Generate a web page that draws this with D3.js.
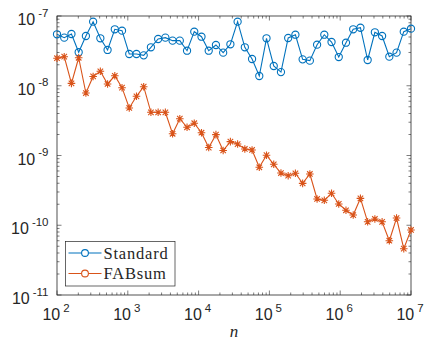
<!DOCTYPE html>
<html>
<head>
<meta charset="utf-8">
<script src="https://cdn.jsdelivr.net/npm/d3@7"></script>
<style>
  body { margin: 0; background: #fff; }
</style>
</head>
<body>
<div id="plot"></div>
<script>
// n = logspace(2, 7, 50)
var nExp = [];
for (var k = 0; k < 50; k++) nExp.push(2 + 5 * k / 49);
var nValues = nExp.map(function(e){ return Math.pow(10, e); });

var standardErr = [
  5.47e-8, 4.89e-8, 5.52e-8, 3.02e-8, 5.17e-8, 8.29e-8, 4.79e-8, 3.26e-8, 6.45e-8, 6.16e-8,
  2.85e-8, 2.85e-8, 2.73e-8, 3.56e-8, 4.68e-8, 4.89e-8, 4.43e-8, 4.43e-8, 3.18e-8, 5.96e-8,
  5.05e-8, 3.18e-8, 3.84e-8, 2.98e-8, 3.93e-8, 8.29e-8, 3.56e-8, 2.42e-8, 1.38e-8, 4.79e-8,
  1.92e-8, 1.57e-8, 4.84e-8, 5.39e-8, 2.39e-8, 2.29e-8, 3.88e-8, 5.39e-8, 4.24e-8, 2.58e-8,
  4.14e-8, 6.45e-8, 6.79e-8, 2.34e-8, 5.84e-8, 5.17e-8, 2.61e-8, 2.98e-8, 5.96e-8, 6.58e-8
];

var fabsumErr = [
  2.48e-8, 2.61e-8, 1.08e-8, 2.52e-8, 7.87e-9, 1.36e-8, 1.61e-8, 1.06e-8, 1.39e-8, 9.38e-9,
  4.80e-9, 7.06e-9, 9.69e-9, 4.16e-9, 4.16e-9, 4.16e-9, 2.05e-9, 3.37e-9, 2.54e-9, 2.90e-9,
  2.12e-9, 1.30e-9, 1.99e-9, 1.18e-9, 1.58e-9, 1.46e-9, 1.24e-9, 1.20e-9, 6.78e-10, 1.01e-9,
  7.48e-10, 5.61e-10, 5.13e-10, 5.56e-10, 3.99e-10, 5.43e-10, 2.38e-10, 2.28e-10, 2.87e-10, 2.02e-10,
  1.64e-10, 1.40e-10, 2.43e-10, 1.12e-10, 1.23e-10, 1.12e-10, 6.00e-11, 1.27e-10, 4.61e-11, 8.55e-11
];

var seriesNames = ["Standard", "FABsum"];
var seriesColors = ["#0072BD", "#D95319"];
var xTickExp = [2, 3, 4, 5, 6, 7];
var yTickExp = [-11, -10, -9, -8, -7];

var width = 426, height = 344;
var padL = 57, padR = 411, padT = 16, padB = 295;
var axisColor = "#262626";

var svg = d3.select("#plot").append("svg")
  .attr("width", width).attr("height", height)
  .style("background", "#fff");

var x = d3.scaleLog().domain([1e2, 1e7]).range([padL, padR]);
var y = d3.scaleLog().domain([1e-11, 1e-7]).range([padB, padT]);

// minor tick values
var xMinor = [], yMinor = [];
for (var d = 2; d < 7; d++) for (var m = 2; m <= 9; m++) xMinor.push(m * Math.pow(10, d));
for (var d = -11; d < -7; d++) for (var m = 2; m <= 9; m++) yMinor.push(m * Math.pow(10, d));
var xMajor = xTickExp.map(function(e){ return Math.pow(10, e); });
var yMajor = yTickExp.map(function(e){ return Math.pow(10, e); });

var ticks = svg.append("g").attr("stroke", axisColor).attr("stroke-width", 0.6);

function addTicks(vals, len, horiz) {
  vals.forEach(function(v){
    if (horiz) {
      var px = x(v);
      ticks.append("line").attr("x1", px).attr("x2", px).attr("y1", padB).attr("y2", padB - len);
      ticks.append("line").attr("x1", px).attr("x2", px).attr("y1", padT).attr("y2", padT + len);
    } else {
      var py = y(v);
      ticks.append("line").attr("y1", py).attr("y2", py).attr("x1", padL).attr("x2", padL + len);
      ticks.append("line").attr("y1", py).attr("y2", py).attr("x1", padR).attr("x2", padR - len);
    }
  });
}
addTicks(xMinor, 2.5, true);
addTicks(xMajor, 4.5, true);
addTicks(yMinor, 2.5, false);
addTicks(yMajor, 4.5, false);

// box
svg.append("rect")
  .attr("x", padL).attr("y", padT)
  .attr("width", padR - padL).attr("height", padB - padT)
  .attr("fill", "none").attr("stroke", axisColor).attr("stroke-width", 0.8);

// tick labels
var tickFont = "Liberation Sans, Arial, Helvetica, sans-serif";
function powLabel(t, e) {
  t.append("tspan").text("10");
  t.append("tspan").attr("dx", 3).attr("dy", -8.3).attr("font-size", "11.5px").text(e);
}
xTickExp.forEach(function(e){
  var t = svg.append("text")
    .attr("x", x(Math.pow(10, e)) - 1).attr("y", 320)
    .attr("text-anchor", "middle")
    .attr("font-family", tickFont).attr("font-size", "16px")
    .attr("fill", axisColor);
  powLabel(t, e);
});
yTickExp.forEach(function(e){
  var t = svg.append("text")
    .attr("x", 48.5).attr("y", y(Math.pow(10, e)) + 9)
    .attr("text-anchor", "end")
    .attr("font-family", tickFont).attr("font-size", "16px")
    .attr("fill", axisColor);
  powLabel(t, e);
});

// x label
svg.append("text")
  .attr("x", 234).attr("y", 337)
  .attr("text-anchor", "middle")
  .attr("font-family", "Liberation Serif, DejaVu Serif, serif")
  .attr("font-style", "italic").attr("font-size", "17px")
  .attr("fill", axisColor)
  .text("n");

var plot = svg.append("g");

function drawLine(vals, color) {
  var line = d3.line()
    .x(function(d, i){ return x(nValues[i]); })
    .y(function(d){ return y(d); });
  plot.append("path").datum(vals)
    .attr("d", line)
    .attr("fill", "none").attr("stroke", color).attr("stroke-width", 1.1);
}

drawLine(standardErr, seriesColors[0]);
drawLine(fabsumErr, seriesColors[1]);

plot.selectAll(".circ").data(standardErr).enter().append("circle")
  .attr("class", "circ")
  .attr("cx", function(d, i){ return x(nValues[i]); })
  .attr("cy", function(d){ return y(d); })
  .attr("r", 3.6)
  .attr("fill", "none").attr("stroke", seriesColors[0]).attr("stroke-width", 1.1);

var s = 3.8, s2 = s * 0.72;
var starPath = "M" + (-s) + ",0L" + s + ",0M0," + (-s) + "L0," + s +
  "M" + (-s2) + "," + (-s2) + "L" + s2 + "," + s2 +
  "M" + (-s2) + "," + s2 + "L" + s2 + "," + (-s2);

plot.selectAll(".star").data(fabsumErr).enter().append("path")
  .attr("class", "star")
  .attr("transform", function(d, i){ return "translate(" + x(nValues[i]) + "," + y(d) + ")"; })
  .attr("d", starPath)
  .attr("fill", "none").attr("stroke", seriesColors[1]).attr("stroke-width", 1.1);

// legend
var lg = svg.append("g");
lg.append("rect")
  .attr("x", 65.5).attr("y", 241.5).attr("width", 109.5).attr("height", 44.5)
  .attr("fill", "#fff").attr("stroke", axisColor).attr("stroke-width", 0.7);
seriesNames.forEach(function(name, i){
  var ly = 253 + i * 20.5;
  lg.append("line").attr("x1", 68.5).attr("x2", 101.5).attr("y1", ly).attr("y2", ly)
    .attr("stroke", seriesColors[i]).attr("stroke-width", 1.1);
  lg.append("circle").attr("cx", 85).attr("cy", ly).attr("r", 3.4)
    .attr("fill", "#fff").attr("stroke", seriesColors[i]).attr("stroke-width", 1.1);
  lg.append("text").attr("x", 103.5).attr("y", ly + 5.5)
    .attr("font-family", "Liberation Serif, DejaVu Serif, serif")
    .attr("font-size", "16.5px").attr("letter-spacing", "0.8px")
    .attr("fill", axisColor)
    .text(name);
});
</script>
</body>
</html>
